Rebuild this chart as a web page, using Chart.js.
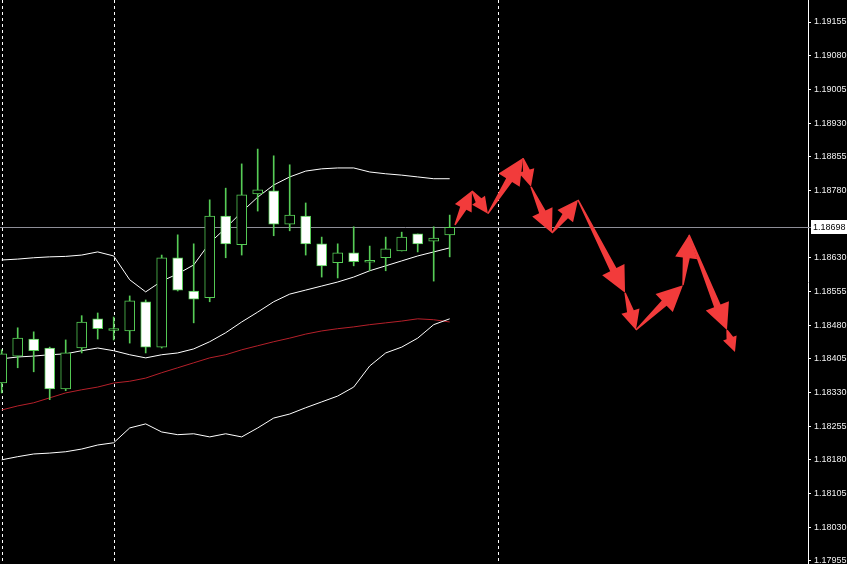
<!DOCTYPE html>
<html>
<head>
<meta charset="utf-8">
<script src="https://cdn.jsdelivr.net/npm/chart.js@4.4.1/dist/chart.umd.min.js"></script>
<style>
  html, body { margin: 0; padding: 0; background: #000; }
  #wrap { width: 847px; height: 564px; position: relative; }
</style>
</head>
<body>
<div id="wrap"><canvas id="chart"></canvas></div>
<script>
// candle data (index = bar number)
var opens  = [1.18351, 1.18411, 1.18449, 1.18429, 1.18338, 1.18429, 1.18494, 1.18468, 1.18467, 1.18532,
              1.18431, 1.18630, 1.18556, 1.18541, 1.18723, 1.18659, 1.18772, 1.18779, 1.18705, 1.18723,
              1.18661, 1.18619, 1.18641, 1.18620, 1.18630, 1.18645, 1.18683, 1.18667, 1.18681];
var highs  = [1.18425, 1.18474, 1.18465, 1.18431, 1.18447, 1.18501, 1.18507, 1.18498, 1.18545, 1.18536,
              1.18636, 1.18681, 1.18661, 1.18759, 1.18785, 1.18839, 1.18872, 1.18857, 1.18837, 1.18752,
              1.18676, 1.18661, 1.18699, 1.18656, 1.18676, 1.18687, 1.18683, 1.18699, 1.18725];
var lows   = [1.18329, 1.18385, 1.18376, 1.18314, 1.18334, 1.18418, 1.18449, 1.18447, 1.18440, 1.18418,
              1.18429, 1.18556, 1.18485, 1.18532, 1.18630, 1.18636, 1.18734, 1.18679, 1.18690, 1.18636,
              1.18587, 1.18585, 1.18612, 1.18601, 1.18601, 1.18645, 1.18643, 1.18578, 1.18632];
var closes = [1.18416, 1.18451, 1.18423, 1.18338, 1.18418, 1.18487, 1.18472, 1.18471, 1.18534, 1.18431,
              1.18630, 1.18558, 1.18538, 1.18723, 1.18661, 1.18770, 1.18781, 1.18705, 1.18725, 1.18661,
              1.18612, 1.18641, 1.18621, 1.18622, 1.18650, 1.18676, 1.18661, 1.18674, 1.18698];

// bollinger bands + moving average
var upperBand = [1.18625, 1.18627, 1.18630, 1.18632, 1.18633, 1.18636, 1.18643, 1.18634, 1.18581, 1.18554,
                 1.18578, 1.18594, 1.18614, 1.18663, 1.18696, 1.18732, 1.18765, 1.18792, 1.18810, 1.18823,
                 1.18828, 1.18830, 1.18830, 1.18821, 1.18817, 1.18814, 1.18810, 1.18806, 1.18806];
var middleBand = [1.18405, 1.18409, 1.18411, 1.18414, 1.18416, 1.18423, 1.18429, 1.18423, 1.18414, 1.18407,
                  1.18414, 1.18418, 1.18427, 1.18443, 1.18463, 1.18487, 1.18509, 1.18532, 1.18549, 1.18558,
                  1.18567, 1.18576, 1.18587, 1.18601, 1.18612, 1.18623, 1.18634, 1.18643, 1.18652];
var lowerBand = [1.18180, 1.18187, 1.18193, 1.18195, 1.18198, 1.18204, 1.18213, 1.18218, 1.18251, 1.18260,
                 1.18242, 1.18236, 1.18238, 1.18231, 1.18238, 1.18231, 1.18251, 1.18273, 1.18282, 1.18296,
                 1.18309, 1.18322, 1.18342, 1.18389, 1.18418, 1.18431, 1.18451, 1.18481, 1.18494];
var maLine = [1.18291, 1.18300, 1.18307, 1.18318, 1.18329, 1.18336, 1.18342, 1.18351, 1.18355, 1.18362,
              1.18374, 1.18385, 1.18396, 1.18407, 1.18414, 1.18425, 1.18434, 1.18443, 1.18451, 1.18460,
              1.18467, 1.18472, 1.18476, 1.18481, 1.18485, 1.18489, 1.18494, 1.18492, 1.18487];

// projected path (red arrows)
var arrowX = [28.33, 29.39, 30.39, 32.58, 33.08, 34.39, 36.02, 38.96, 39.64, 42.58, 42.96, 45.33, 45.83];
var arrowY = [1.18703, 1.18779, 1.18728, 1.18852, 1.18788, 1.18685, 1.18759, 1.18552, 1.18469, 1.18569,
              1.18681, 1.18469, 1.18420];

var yTicks = [1.19155, 1.19080, 1.19005, 1.18930, 1.18855, 1.18780, 1.18630, 1.18555, 1.18480,
              1.18405, 1.18330, 1.18255, 1.18180, 1.18105, 1.18030, 1.17955];
var currentPrice = 1.18698;
var separators = [0, 7, 31];

var green = "#56cc56";

function points(arr) {
    var out = [];
    for (var i = 0; i < arr.length; i++) {
        out.push({x: i, y: arr[i]});
    }
    return out;
}

var bodies = [], wicks = [], bodyFill = [];
for (var i = 0; i < opens.length; i++) {
    bodies.push({x: i, y: [opens[i], closes[i]]});
    wicks.push({x: i, y: [lows[i], highs[i]]});
    bodyFill.push(closes[i] >= opens[i] ? "#000" : "#fff");
}

var overlayPlugin = {
    id: "overlay",
    beforeDatasetsDraw: function(chart) {
        var ctx = chart.ctx, xs = chart.scales.x, ys = chart.scales.y, area = chart.chartArea;
        ctx.save();
        // dashed period separators
        ctx.strokeStyle = "#fff";
        ctx.lineWidth = 1;
        ctx.setLineDash([3, 3]);
        separators.forEach(function(s) {
            var px = Math.round(xs.getPixelForValue(s)) + 0.5;
            ctx.beginPath();
            ctx.moveTo(px, area.top);
            ctx.lineTo(px, area.bottom);
            ctx.stroke();
        });
        ctx.setLineDash([]);
        // current price line
        var py = Math.round(ys.getPixelForValue(currentPrice)) + 0.5;
        ctx.strokeStyle = "#8e8e98";
        ctx.beginPath();
        ctx.moveTo(area.left, py);
        ctx.lineTo(area.right + 3, py);
        ctx.stroke();
        ctx.restore();
    },
    afterDatasetsDraw: function(chart) {
        var ctx = chart.ctx, xs = chart.scales.x, ys = chart.scales.y;
        ctx.save();
        ctx.fillStyle = "#f23b3b";
        for (var i = 0; i < arrowX.length - 1; i++) {
            var ax = xs.getPixelForValue(arrowX[i]), ay = ys.getPixelForValue(arrowY[i]);
            var bx = xs.getPixelForValue(arrowX[i + 1]), by = ys.getPixelForValue(arrowY[i + 1]);
            var dx = bx - ax, dy = by - ay;
            var len = Math.sqrt(dx * dx + dy * dy);
            var ux = dx / len, uy = dy / len, nx = -uy, ny = ux;
            var head = Math.min(26, 8 + len * 0.3);
            var hw = head * 0.48;
            var cx = bx - ux * head, cy = by - uy * head;
            ctx.beginPath();
            ctx.moveTo(ax + nx * 0.7, ay + ny * 0.7);
            ctx.lineTo(cx + nx * 3.5, cy + ny * 3.5);
            ctx.lineTo(cx + nx * hw, cy + ny * hw);
            ctx.lineTo(bx, by);
            ctx.lineTo(cx - nx * hw, cy - ny * hw);
            ctx.lineTo(cx - nx * 3.5, cy - ny * 3.5);
            ctx.lineTo(ax - nx * 0.7, ay - ny * 0.7);
            ctx.closePath();
            ctx.fill();
        }
        ctx.restore();
    },
    afterDraw: function(chart) {
        var ctx = chart.ctx, ys = chart.scales.y;
        var py = Math.round(ys.getPixelForValue(currentPrice));
        ctx.save();
        ctx.fillStyle = "#fff";
        ctx.fillRect(ys.left + 3, py - 7, chart.width - ys.left - 3, 14);
        ctx.fillStyle = "#000";
        ctx.font = "9px 'Liberation Sans', Arial, sans-serif";
        ctx.textBaseline = "middle";
        ctx.fillText(currentPrice.toFixed(5), ys.left + 5, py + 0.5);
        ctx.restore();
    }
};

const ctx = document.getElementById("chart").getContext("2d");

const config = {
    type: "bar",
    data: {
        datasets: [
            {
                type: "bar",
                data: bodies,
                backgroundColor: bodyFill,
                borderColor: green,
                borderWidth: 1,
                borderSkipped: false,
                barThickness: 10,
                minBarLength: 2,
                grouped: false,
                order: 0
            },
            {
                type: "bar",
                data: wicks,
                backgroundColor: green,
                borderWidth: 0,
                barThickness: 1,
                grouped: false,
                order: 1
            },
            {
                type: "line",
                data: points(upperBand),
                borderColor: "#fff",
                borderWidth: 1,
                pointRadius: 0,
                tension: 0,
                order: 2
            },
            {
                type: "line",
                data: points(middleBand),
                borderColor: "#fff",
                borderWidth: 1,
                pointRadius: 0,
                tension: 0,
                order: 2
            },
            {
                type: "line",
                data: points(lowerBand),
                borderColor: "#fff",
                borderWidth: 1,
                pointRadius: 0,
                tension: 0,
                order: 2
            },
            {
                type: "line",
                data: points(maLine),
                borderColor: "#b5202a",
                borderWidth: 1,
                pointRadius: 0,
                tension: 0,
                order: 2
            }
        ]
    },
    options: {
        responsive: true,
        maintainAspectRatio: false,
        animation: false,
        layout: { padding: 0 },
        scales: {
            x: {
                type: "linear",
                display: false,
                offset: false,
                min: -0.106,
                max: 50.394,
                grid: { offset: false }
            },
            y: {
                position: "right",
                min: 1.17948,
                max: 1.19204,
                afterFit: function(scale) {
                    scale.width = 39;
                    scale.paddingTop = 0;
                    scale.paddingBottom = 0;
                },
                afterBuildTicks: function(scale) {
                    scale.ticks = yTicks.map(function(v) { return {value: v}; });
                },
                border: { color: "#fff", width: 1 },
                grid: {
                    drawOnChartArea: false,
                    color: "#fff",
                    tickLength: 3
                },
                ticks: {
                    autoSkip: false,
                    color: "#f0f0f0",
                    padding: 3,
                    font: { family: "'Liberation Sans', Arial, sans-serif", size: 9 },
                    callback: function(v) { return Number(v).toFixed(5); }
                }
            }
        },
        plugins: {
            legend: { display: false },
            tooltip: { enabled: false }
        }
    },
    plugins: [overlayPlugin]
};

var chart = new Chart(ctx, config);
</script>
</body>
</html>
